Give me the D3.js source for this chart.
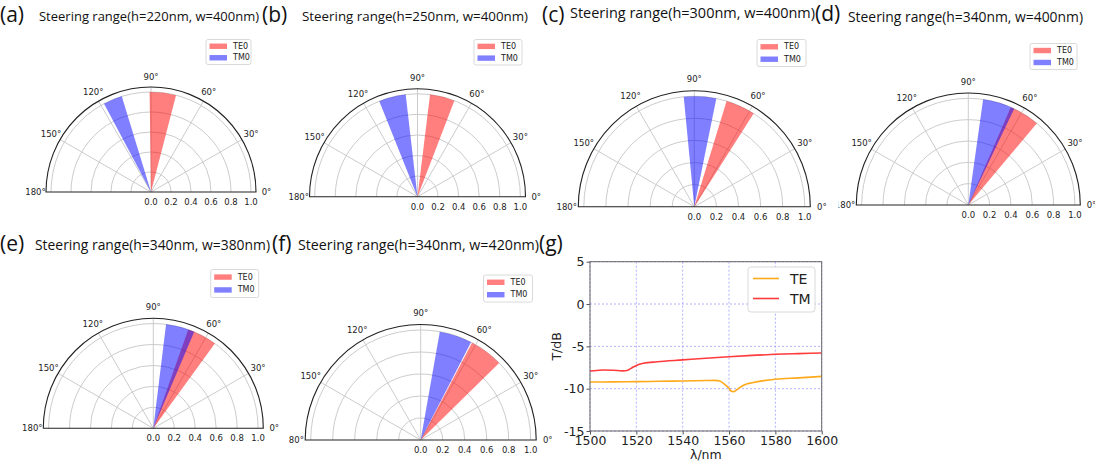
<!DOCTYPE html>
<html>
<head>
<meta charset="utf-8">
<script src="https://cdn.jsdelivr.net/npm/d3@7"></script>
<style>
body { margin: 0; background: #fff; }
svg { display: block; }
</style>
</head>
<body>
<div id="chart"></div>
<script>
// ---- polar panels (a)-(f) ----
var panelLabels = ["(a)", "(b)", "(c)", "(d)", "(e)", "(f)"];
var panelTitles = [
    "Steering range(h=220nm, w=400nm)",
    "Steering range(h=250nm, w=400nm)",
    "Steering range(h=300nm, w=400nm)",
    "Steering range(h=340nm, w=400nm)",
    "Steering range(h=340nm, w=380nm)",
    "Steering range(h=340nm, w=420nm)"
];
var te0From = [75.5, 69, 57.5, 50, 54, 44.5];
var te0To = [90.8, 83, 73, 66.5, 70.5, 62.2];
var tm0From = [107, 96.6, 78.5, 64.5, 67, 62.8];
var tm0To = [118, 111.8, 95.5, 82, 83, 80];
var barLength = 1.0;
var rMax = 1.05;
var rTicks = [0.2, 0.4, 0.6, 0.8, 1.0];
var rTickLabels = [0, 0.2, 0.4, 0.6, 0.8, 1.0];
var thetaTicks = [0, 30, 60, 90, 120, 150, 180];
var polarSeries = ["TE0", "TM0"];
var polarColors = ["red", "blue"];

// ---- line panel (g) ----
var wlTE = [1500, 1510, 1520, 1530, 1540, 1550, 1554, 1556, 1558, 1560, 1561, 1562, 1563, 1565, 1567, 1570, 1575, 1580, 1590, 1600];
var tTE = [-9.22, -9.2, -9.17, -9.13, -9.09, -9.04, -9.02, -9.1, -9.45, -9.95, -10.3, -10.35, -10.2, -9.8, -9.5, -9.3, -9.05, -8.88, -8.72, -8.55];
var wlTM = [1500, 1503, 1506, 1510, 1514, 1516, 1518, 1520, 1523, 1529, 1540, 1550, 1560, 1570, 1580, 1590, 1600];
var tTM = [-7.91, -7.85, -7.8, -7.82, -7.9, -7.85, -7.55, -7.25, -7.0, -6.82, -6.6, -6.4, -6.22, -6.07, -5.94, -5.86, -5.78];
var xTicks = [1500, 1520, 1540, 1560, 1580, 1600];
var yTicks = [5, 0, -5, -10, -15];
var lineSeries = ["TE", "TM"];
var lineColors = ["#ffaa1a", "#ff3b3b"];

// panel placement in the 1095x463 canvas
var layout = [
    { cx: 151, cy: 192, R: 105, legX: 206, legY: 39.5, legW: 45, legH: 25, labX: 0, labY: 22, titX: 39, titY: 20.5, titW: 220, titFs: 12.5, clipX: 0 },
    { cx: 417.5, cy: 196.7, R: 108, legX: 474, legY: 39.5, legW: 48, legH: 25.5, labX: 262, labY: 22, titX: 302, titY: 21, titW: 226, titFs: 12.5, clipX: 0 },
    { cx: 694.3, cy: 206.7, R: 116, legX: 757, legY: 39.5, legW: 49, legH: 27, labX: 542, labY: 21.5, titX: 570, titY: 17.5, titW: 245, titFs: 14.5, clipX: 0 },
    { cx: 968.3, cy: 205, R: 112, legX: 1030, legY: 43.5, legW: 47, legH: 26, labX: 815, labY: 21, titX: 848, titY: 22, titW: 235, titFs: 14, clipX: 838.5 },
    { cx: 153.3, cy: 428.3, R: 110, legX: 210.7, legY: 269.5, legW: 48, legH: 28, labX: 0, labY: 251, titX: 35, titY: 250, titW: 235, titFs: 14, clipX: 0 },
    { cx: 420.7, cy: 440, R: 115.5, legX: 483.5, legY: 275, legW: 49, legH: 27, labX: 272, labY: 251, titX: 298, titY: 250, titW: 241, titFs: 14.5, clipX: 289 }
];

var svg = d3.select("#chart")
    .append("svg")
    .attr("width", 1095)
    .attr("height", 463)
    .style("background", "#fff");

var tickFont = "DejaVu Sans, sans-serif";
var titleFont = "Open Sans, Noto Sans, sans-serif";

function drawPolar(i) {
    var L = layout[i];
    svg.append("clipPath").attr("id", "clip" + i)
        .append("rect").attr("x", L.clipX).attr("y", 0).attr("width", 1095).attr("height", 463);

    var panel = svg.append("g").attr("clip-path", "url(#clip" + i + ")");
    var g = panel.append("g").attr("transform", "translate(" + L.cx + "," + L.cy + ")");

    var r = d3.scaleLinear().domain([0, rMax]).range([0, L.R]);
    var rad = function (deg) { return deg * Math.PI / 180; };

    // rings
    rTicks.forEach(function (v) {
        var p = d3.path();
        p.moveTo(-r(v), 0);
        p.arc(0, 0, r(v), Math.PI, 2 * Math.PI);
        g.append("path").attr("d", p.toString())
            .attr("fill", "none").attr("stroke", "#cccccc").attr("stroke-width", 1);
    });
    // radial grid
    thetaTicks.slice(1, -1).forEach(function (t) {
        g.append("line")
            .attr("x1", 0).attr("y1", 0)
            .attr("x2", r(rMax) * Math.cos(rad(t)))
            .attr("y2", -r(rMax) * Math.sin(rad(t)))
            .attr("stroke", "#cccccc").attr("stroke-width", 1);
    });

    // wedges
    var arc = d3.arc().innerRadius(0);
    var wedges = [[te0From[i], te0To[i]], [tm0From[i], tm0To[i]]];
    wedges.forEach(function (w, k) {
        g.append("path")
            .attr("d", arc({
                outerRadius: r(barLength),
                startAngle: rad(90 - w[1]),
                endAngle: rad(90 - w[0])
            }))
            .attr("fill", polarColors[k])
            .attr("fill-opacity", 0.5);
    });

    // spines
    var sp = d3.path();
    sp.moveTo(-r(rMax), 0);
    sp.arc(0, 0, r(rMax), Math.PI, 2 * Math.PI);
    sp.closePath();
    g.append("path").attr("d", sp.toString())
        .attr("fill", "none").attr("stroke", "#222").attr("stroke-width", 1.1);

    // theta labels
    thetaTicks.forEach(function (t) {
        g.append("text")
            .attr("x", r(rMax) * 1.1 * Math.cos(rad(t)))
            .attr("y", -r(rMax) * 1.1 * Math.sin(rad(t)))
            .attr("text-anchor", "middle")
            .attr("dominant-baseline", "central")
            .style("font-family", tickFont).style("font-size", "8.5px").attr("fill", "#222")
            .text(t + "°");
    });
    // radial tick labels
    rTickLabels.forEach(function (v) {
        g.append("text")
            .attr("x", r(v)).attr("y", 13)
            .attr("text-anchor", "middle")
            .style("font-family", tickFont).style("font-size", "8.5px").attr("fill", "#222")
            .text(v.toFixed(1));
    });

    // legend
    var leg = panel.append("g").attr("transform", "translate(" + L.legX + "," + L.legY + ")");
    leg.append("rect").attr("width", L.legW).attr("height", L.legH).attr("rx", 2)
        .attr("fill", "#fff").attr("stroke", "#d0d0d0").attr("stroke-width", 0.8);
    polarSeries.forEach(function (s, k) {
        var yy = L.legH * (0.27 + 0.46 * k);
        leg.append("rect").attr("x", 3.5).attr("y", yy - 2.7).attr("width", 17.5).attr("height", 5.4)
            .attr("fill", polarColors[k]).attr("fill-opacity", 0.5);
        leg.append("text").attr("x", 27).attr("y", yy)
            .attr("dominant-baseline", "central")
            .style("font-family", tickFont).style("font-size", "8px").attr("fill", "#222")
            .text(s);
    });

    // titles
    svg.append("text").attr("x", L.labX).attr("y", L.labY)
        .style("font-family", titleFont).style("font-size", "21px").attr("fill", "#111")
        .text(panelLabels[i]);
    svg.append("text").attr("x", L.titX).attr("y", L.titY)
        .attr("textLength", L.titW).attr("lengthAdjust", "spacingAndGlyphs")
        .style("font-family", titleFont).style("font-size", L.titFs + "px").attr("fill", "#111")
        .text(panelTitles[i]);
}

for (var i = 0; i < panelLabels.length; i++) drawPolar(i);

// ---- (g) transmission spectrum ----
function drawLine() {
    var left = 590, right = 821.7, top = 261.7, bottom = 431;
    var x = d3.scaleLinear().domain([1500, 1600]).range([left, right]);
    var y = d3.scaleLinear().domain([-15, 5]).range([bottom, top]);

    svg.append("text").attr("x", 539).attr("y", 251)
        .style("font-family", titleFont).style("font-size", "21px").attr("fill", "#111")
        .text("(g)");

    var grid = svg.append("g");
    xTicks.forEach(function (t) {
        grid.append("line").attr("x1", x(t)).attr("x2", x(t)).attr("y1", top).attr("y2", bottom)
            .attr("stroke", "#9c9cff").attr("stroke-width", 0.8).attr("stroke-dasharray", "2,2");
    });
    yTicks.forEach(function (t) {
        grid.append("line").attr("x1", left).attr("x2", right).attr("y1", y(t)).attr("y2", y(t))
            .attr("stroke", "#9c9cff").attr("stroke-width", 0.8).attr("stroke-dasharray", "2,2");
    });

    var line = d3.line()
        .x(function (d) { return x(d[0]); })
        .y(function (d) { return y(d[1]); })
        .curve(d3.curveMonotoneX);

    var teData = wlTE.map(function (w, k) { return [w, tTE[k]]; });
    var tmData = wlTM.map(function (w, k) { return [w, tTM[k]]; });
    [teData, tmData].forEach(function (d, k) {
        svg.append("path").datum(d).attr("d", line)
            .attr("fill", "none").attr("stroke", lineColors[k]).attr("stroke-width", 1.6);
    });

    var fmt = function (d) { return String(d); };
    var xa = svg.append("g").attr("transform", "translate(0," + bottom + ")")
        .call(d3.axisBottom(x).tickValues(xTicks).tickFormat(fmt).tickSize(3.5).tickPadding(2).tickSizeOuter(0));
    var ya = svg.append("g").attr("transform", "translate(" + left + ",0)")
        .call(d3.axisLeft(y).tickValues(yTicks).tickFormat(fmt).tickSize(3.5).tickPadding(2).tickSizeOuter(0));
    [xa, ya].forEach(function (a) {
        a.select(".domain").remove();
        a.selectAll("line").attr("stroke", "#555");
        a.selectAll("text").style("font-family", tickFont).style("font-size", "12.5px").attr("fill", "#222");
    });

    svg.append("rect").attr("x", left).attr("y", top).attr("width", right - left).attr("height", bottom - top)
        .attr("fill", "none").attr("stroke", "#666").attr("stroke-width", 1);

    svg.append("text")
        .attr("transform", "translate(556," + ((top + bottom) / 2) + ") rotate(-90)")
        .attr("text-anchor", "middle").attr("dominant-baseline", "central")
        .style("font-family", tickFont).style("font-size", "12.5px").attr("fill", "#222")
        .text("T/dB");
    svg.append("text").attr("x", (left + right) / 2).attr("y", 459)
        .attr("text-anchor", "middle")
        .style("font-family", tickFont).style("font-size", "12.5px").attr("fill", "#222")
        .text("λ/nm");

    var leg = svg.append("g").attr("transform", "translate(748,267)");
    leg.append("rect").attr("width", 67).attr("height", 45).attr("rx", 3)
        .attr("fill", "#fff").attr("stroke", "#d0d0d0").attr("stroke-width", 0.8);
    lineSeries.forEach(function (s, k) {
        var yy = 11.5 + 20 * k;
        leg.append("line").attr("x1", 5).attr("x2", 31).attr("y1", yy).attr("y2", yy)
            .attr("stroke", lineColors[k]).attr("stroke-width", 1.6);
        leg.append("text").attr("x", 42).attr("y", yy).attr("dominant-baseline", "central")
            .style("font-family", tickFont).style("font-size", "14px").attr("fill", "#222")
            .text(s);
    });
}

drawLine();
</script>
</body>
</html>
